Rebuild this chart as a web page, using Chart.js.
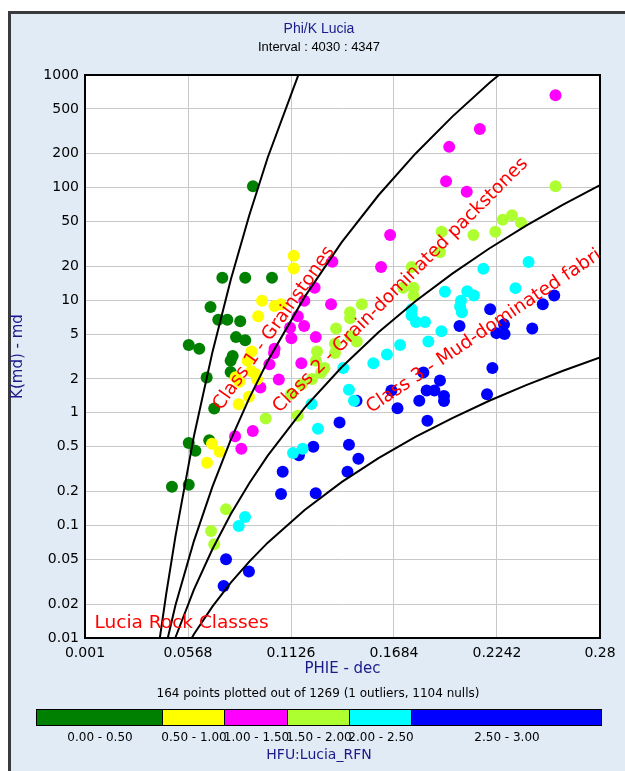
<!DOCTYPE html>
<html>
<head>
<meta charset="utf-8">
<script src="https://cdn.jsdelivr.net/npm/chart.js@4"></script>
<style>
  html, body { margin: 0; padding: 0; background: #fff; overflow: hidden; }
  body { width: 625px; height: 771px; position: relative; font-family: "DejaVu Sans", Verdana, sans-serif; }
  #panel { position: absolute; left: 8px; top: 11px; width: 614px; height: 757px; background: #e1ebf5;
           border-left: 3px solid #3a3a3a; border-top: 3px solid #3a3a3a; }
  #chart { position: absolute; left: 0; top: 0; }
  .txt { position: absolute; white-space: nowrap; text-align: center; line-height: 16px; }
  #title { left: 0; width: 638px; top: 20px; font: 14px "Liberation Sans", Arial, sans-serif; color: #1a1a8a; }
  #interval { left: 0; width: 638px; top: 39px; font: 13px "Liberation Sans", Arial, sans-serif; color: #000; }
  #count { left: 0; width: 636px; top: 685px; font-size: 12px; color: #000; }
  #hfu { left: 0; width: 638px; top: 746px; font-size: 14px; color: #1a1a8a; }
  .seg { position: absolute; top: 709px; height: 17px; box-sizing: border-box; border: 1px solid #000; }
  .lab { position: absolute; top: 729px; font-size: 12px; color: #000; white-space: nowrap; transform: translateX(-50%); line-height: 16px; }
</style>
</head>
<body>
<div id="panel"></div>
<canvas id="chart" width="625" height="771"></canvas>
<div class="txt" id="title">Phi/K Lucia</div>
<div class="txt" id="interval">Interval : 4030 : 4347</div>
<div class="txt" id="count">164 points plotted out of 1269 (1 outliers, 1104 nulls)</div>
<div class="txt" id="hfu">HFU:Lucia_RFN</div>
<div id="legend"></div>
<script>
// axis ticks
const phiTicks = [0.001, 0.0568, 0.1126, 0.1684, 0.2242, 0.28];
const kTicks = [1000, 500, 200, 100, 50, 20, 10, 5, 2, 1, 0.5, 0.2, 0.1, 0.05, 0.02, 0.01];

// HFU classes (Lucia_RFN)
const hfuLabels = ['0.00 - 0.50', '0.50 - 1.00', '1.00 - 1.50', '1.50 - 2.00', '2.00 - 2.50', '2.50 - 3.00'];
const hfuColors = ['#008000', '#ffff00', '#ff00ff', '#adff2f', '#00ffff', '#0000ff'];

// samples
const hfu0Phi = [0.0920, 0.0754, 0.0878, 0.1023, 0.0690, 0.0732, 0.0781, 0.0851, 0.0828, 0.0878, 0.0572, 0.0629, 0.0810, 0.0799, 0.0799, 0.0669, 0.0710, 0.0572, 0.0608, 0.0683, 0.0481, 0.0572];
const hfu0K   = [103, 15.8, 15.8, 15.8, 8.7, 6.7, 6.7, 6.5, 4.7, 4.4, 4.0, 3.7, 3.2, 2.9, 2.3, 2.06, 1.09, 0.54, 0.46, 0.57, 0.22, 0.23];

const hfu1Phi = [0.1141, 0.1141, 0.0969, 0.1037, 0.1072, 0.0948, 0.0912, 0.0891, 0.0911, 0.0935, 0.0826, 0.0846, 0.0942, 0.0898, 0.0843, 0.0698, 0.0739, 0.0671];
const hfu1K   = [24.8, 19.1, 9.9, 8.9, 9.2, 7.2, 3.5, 2.9, 2.34, 2.2, 2.07, 1.89, 1.99, 1.39, 1.19, 0.53, 0.45, 0.36];

const hfu2Phi = [0.2559, 0.2149, 0.1983, 0.1966, 0.2078, 0.1663, 0.1614, 0.1350, 0.1343, 0.1254, 0.1198, 0.1163, 0.1197, 0.1121, 0.1260, 0.1128, 0.1037, 0.1034, 0.1009, 0.1182, 0.1060, 0.0960, 0.0823, 0.0919, 0.0857];
const hfu2K   = [660, 331, 230, 114, 92, 37.9, 19.7, 22, 9.2, 12.9, 9.9, 7.2, 5.9, 5.7, 4.7, 4.6, 3.7, 3.4, 2.7, 2.75, 1.98, 1.68, 0.62, 0.69, 0.48];

const hfu3Phi = [0.2559, 0.2273, 0.2323, 0.2372, 0.2233, 0.2114, 0.1942, 0.1933, 0.1780, 0.1733, 0.1790, 0.1790, 0.1510, 0.1446, 0.1446, 0.1370, 0.1449, 0.1482, 0.1364, 0.1364, 0.1267, 0.1261, 0.1307, 0.1289, 0.1240, 0.1183, 0.1126, 0.0989, 0.1162, 0.0774, 0.0693, 0.0710];
const hfu3K   = [103, 51.9, 56.8, 48.8, 40.6, 37.9, 40.6, 26.6, 19.7, 12.9, 12.9, 11.0, 9.2, 7.8, 6.9, 5.6, 4.8, 4.3, 4.1, 3.4, 3.5, 2.9, 2.5, 2.27, 2.0, 1.78, 1.47, 0.89, 0.94, 0.139, 0.089, 0.068];

const hfu4Phi = [0.2413, 0.2168, 0.2342, 0.1960, 0.2081, 0.2117, 0.2047, 0.2042, 0.2052, 0.1780, 0.1779, 0.1803, 0.1852, 0.1941, 0.1870, 0.1717, 0.1646, 0.1572, 0.1409, 0.1440, 0.1467, 0.1237, 0.1272, 0.1189, 0.1137, 0.0877, 0.0843];
const hfu4K   = [21.8, 19.0, 12.8, 11.9, 12.0, 11.0, 9.9, 8.8, 7.8, 8.3, 7.3, 6.4, 6.4, 5.3, 4.3, 4.0, 3.3, 2.75, 2.5, 1.6, 1.28, 1.2, 0.72, 0.48, 0.44, 0.119, 0.099];

const hfu5Phi = [0.2552, 0.2490, 0.2205, 0.2280, 0.2239, 0.2283, 0.2433, 0.2039, 0.2217, 0.1843, 0.1933, 0.1670, 0.1861, 0.1903, 0.1955, 0.1955, 0.1821, 0.1703, 0.2188, 0.1865, 0.1389, 0.1481, 0.1440, 0.1491, 0.1432, 0.1247, 0.1169, 0.1260, 0.1081, 0.1072, 0.0774, 0.0898, 0.0761];
const hfu5K   = [11.0, 9.2, 8.3, 6.1, 5.1, 5.0, 5.6, 5.9, 2.5, 2.28, 1.94, 1.58, 1.58, 1.58, 1.41, 1.27, 1.28, 1.10, 1.46, 0.85, 0.82, 1.28, 0.52, 0.39, 0.30, 0.50, 0.42, 0.193, 0.30, 0.19, 0.050, 0.039, 0.029];

// Lucia class boundary curves (RFN 0.5, 1.5, 2.5, 4)
const bound05Phi = [0.04, 0.045, 0.05, 0.06, 0.07, 0.08, 0.09, 0.10, 0.12];
const bound05K   = [0.0067, 0.0247, 0.080, 0.62, 3.44, 15.3, 56.9, 185, 1416];
const bound15Phi = [0.04, 0.05, 0.06, 0.07, 0.08, 0.09, 0.10, 0.12, 0.14, 0.16, 0.18, 0.20, 0.22, 0.24];
const bound15K   = [0.0039, 0.0195, 0.0726, 0.220, 0.577, 1.35, 2.88, 10.7, 32.6, 85.5, 200, 427, 849, 1590];
const bound25Phi = [0.04, 0.05, 0.06, 0.07, 0.08, 0.09, 0.10, 0.12, 0.14, 0.16, 0.18, 0.20, 0.22, 0.24, 0.26, 0.28];
const bound25K   = [0.0030, 0.0101, 0.0269, 0.0614, 0.126, 0.237, 0.417, 1.11, 2.54, 5.20, 9.79, 17.2, 28.8, 45.9, 70.6, 105];
const bound4Phi  = [0.05, 0.06, 0.07, 0.08, 0.09, 0.10, 0.12, 0.14, 0.16, 0.18, 0.20, 0.22, 0.24, 0.26, 0.28];
const bound4K    = [0.0055, 0.0108, 0.0190, 0.031, 0.0477, 0.0703, 0.137, 0.242, 0.396, 0.610, 0.898, 1.28, 1.76, 2.36, 3.10];

const pts = (xs, ys) => xs.map((x, i) => ({ x: x, y: ys[i] }));

// legend bar
const segEdges = [36, 162, 224, 287, 349, 411, 601];
const legend = document.getElementById('legend');
hfuLabels.forEach((lab, i) => {
  const s = document.createElement('div');
  s.className = 'seg';
  s.style.left = segEdges[i] + 'px';
  s.style.width = (segEdges[i + 1] - segEdges[i] + 1) + 'px';
  s.style.background = hfuColors[i];
  legend.appendChild(s);
  const t = document.createElement('div');
  t.className = 'lab';
  t.style.left = ((segEdges[i] + segEdges[i + 1]) / 2 + 1) + 'px';
  t.textContent = lab;
  legend.appendChild(t);
});

const navy = '#1a1a8a';
const curve = (xs, ys) => ({
  type: 'scatter', data: pts(xs, ys), showLine: true, tension: 0,
  borderColor: '#000', borderWidth: 2, pointRadius: 0, order: 0
});
const cloud = (xs, ys, i, ord) => ({
  label: hfuLabels[i], data: pts(xs, ys), backgroundColor: hfuColors[i],
  borderColor: hfuColors[i], borderWidth: 0, pointRadius: 6, order: ord
});

const notes = [
  { text: 'Class 1 - Grainstones', x: 0.0748, y: 1.04, rot: -54.6 },
  { text: 'Class 2 - Grain-dominated packstones', x: 0.1064, y: 0.99, rot: -45 },
  { text: 'Class 3 - Mud-dominated fabric', x: 0.1560, y: 0.99, rot: -34 },
  { text: 'Lucia Rock Classes', x: 0.0062, y: 0.0123, rot: 0 }
];

const frame = {
  id: 'frame',
  beforeDraw(chart) {
    const a = chart.chartArea, c = chart.ctx;
    c.save();
    c.fillStyle = '#fff';
    c.fillRect(a.left, a.top, a.right - a.left, a.bottom - a.top);
    c.restore();
  },
  afterDatasetsDraw(chart) {
    const a = chart.chartArea, c = chart.ctx;
    const xs = chart.scales.x, ys = chart.scales.y;
    c.save();
    c.beginPath();
    c.rect(a.left, a.top, a.right - a.left, a.bottom - a.top);
    c.clip();
    c.fillStyle = '#ff0000';
    c.font = '18.5px "DejaVu Sans", Verdana, sans-serif';
    c.textBaseline = 'alphabetic';
    notes.forEach(n => {
      c.save();
      c.translate(xs.getPixelForValue(n.x), ys.getPixelForValue(n.y));
      c.rotate(n.rot * Math.PI / 180);
      c.fillText(n.text, 0, 0);
      c.restore();
    });
    c.restore();
    c.save();
    c.strokeStyle = '#000';
    c.lineWidth = 2;
    c.strokeRect(a.left, a.top, a.right - a.left, a.bottom - a.top);
    c.restore();
  }
};

new Chart(document.getElementById('chart'), {
  type: 'scatter',
  data: {
    datasets: [
      curve(bound05Phi, bound05K),
      curve(bound15Phi, bound15K),
      curve(bound25Phi, bound25K),
      curve(bound4Phi, bound4K),
      cloud(hfu0Phi, hfu0K, 0, 3),
      cloud(hfu1Phi, hfu1K, 1, 1),
      cloud(hfu2Phi, hfu2K, 2, 2),
      cloud(hfu3Phi, hfu3K, 3, 2),
      cloud(hfu4Phi, hfu4K, 4, 1),
      cloud(hfu5Phi, hfu5K, 5, 3)
    ]
  },
  options: {
    responsive: false,
    animation: false,
    events: [],
    layout: { padding: { left: 5, top: 75, right: 25, bottom: 89 } },
    plugins: { legend: { display: false }, tooltip: { enabled: false } },
    scales: {
      x: {
        type: 'linear', min: 0.001, max: 0.28,
        afterBuildTicks: s => { s.ticks = phiTicks.map(v => ({ value: v })); },
        afterFit: s => { s.height = 44; },
        ticks: { autoSkip: false, maxRotation: 0, padding: 7, color: '#000',
                 font: { family: '"DejaVu Sans", Verdana, sans-serif', size: 14 },
                 callback: v => String(v) },
        grid: { color: '#c8c8c8', lineWidth: 1, drawTicks: false },
        border: { display: false },
        title: { display: true, text: 'PHIE - dec', color: navy,
                 font: { family: '"DejaVu Sans", Verdana, sans-serif', size: 15 } }
      },
      y: {
        type: 'logarithmic', min: 0.01, max: 1000,
        afterBuildTicks: s => { s.ticks = kTicks.map(v => ({ value: v })); },
        afterFit: s => { s.width = 80; },
        ticks: { autoSkip: false, padding: 6, color: '#000',
                 font: { family: '"DejaVu Sans", Verdana, sans-serif', size: 14 },
                 callback: v => String(v) },
        grid: { color: '#c8c8c8', lineWidth: 1, drawTicks: false },
        border: { display: false },
        title: { display: true, text: 'K(md) - md', color: navy,
                 font: { family: '"DejaVu Sans", Verdana, sans-serif', size: 15 } }
      }
    }
  },
  plugins: [frame]
});
</script>
</body>
</html>
